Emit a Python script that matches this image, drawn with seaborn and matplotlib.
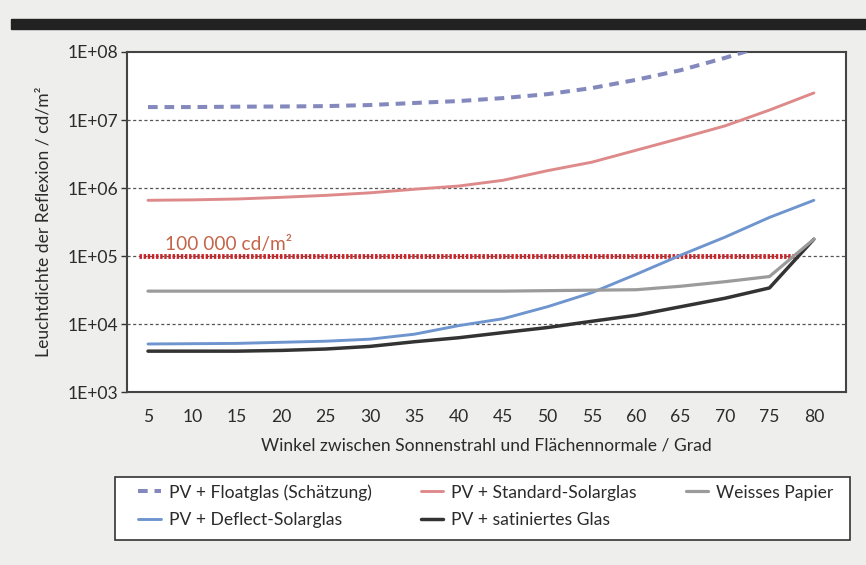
import numpy as np
import pandas as pd
import seaborn as sns
from matplotlib import pyplot as plt
from matplotlib.ticker import FuncFormatter, FixedLocator

# Daten
winkel = [5, 10, 15, 20, 25, 30, 35, 40, 45, 50, 55, 60, 65, 70, 75, 80]
floatglas = [1.55e7, 1.55e7, 1.57e7, 1.58e7, 1.6e7, 1.66e7, 1.78e7, 1.9e7, 2.1e7,
             2.4e7, 2.95e7, 3.9e7, 5.4e7, 8.2e7, 1.3e8, 2.0e8]
standard = [6.6e5, 6.7e5, 6.9e5, 7.3e5, 7.8e5, 8.5e5, 9.6e5, 1.07e6, 1.3e6,
            1.8e6, 2.4e6, 3.6e6, 5.4e6, 8.2e6, 1.4e7, 2.5e7]
deflect = [5.1e3, 5.15e3, 5.2e3, 5.4e3, 5.6e3, 6.0e3, 7.1e3, 9.5e3, 1.2e4,
           1.8e4, 2.9e4, 5.4e4, 1.03e5, 1.9e5, 3.7e5, 6.6e5]
papier = [3.05e4, 3.05e4, 3.05e4, 3.05e4, 3.05e4, 3.05e4, 3.05e4, 3.05e4, 3.05e4,
          3.1e4, 3.15e4, 3.2e4, 3.6e4, 4.2e4, 5.0e4, 1.77e5]
satiniert = [4.0e3, 4.0e3, 4.0e3, 4.1e3, 4.3e3, 4.7e3, 5.5e3, 6.3e3, 7.5e3,
             8.9e3, 1.1e4, 1.35e4, 1.8e4, 2.4e4, 3.4e4, 1.77e5]
grenzwert = 1e5

serien = ["PV + Floatglas (Schätzung)", "PV + Deflect-Solarglas",
          "PV + Standard-Solarglas", "PV + satiniertes Glas", "Weisses Papier"]
werte = [floatglas, deflect, standard, satiniert, papier]
farben = ["#8389bd", "#6f95cf", "#de8a8a", "#333333", "#9b9b9b"]
breiten = [2.9, 2.1, 2.1, 2.5, 2.3]

df = pd.DataFrame({"Winkel": winkel * len(serien),
                   "Wert": np.concatenate(werte),
                   "Serie": np.repeat(serien, len(winkel))})

sns.set_theme(style="white")
plt.rcParams['font.family'] = ['Lato', 'DejaVu Sans']
fs = 12.6
tc = "#2b2b2b"

fig = plt.figure(figsize=(8.66, 5.65), dpi=100, facecolor="#eeeeec")
fig.patches.append(plt.Rectangle((0.013, 0.949), 0.99, 0.018, transform=fig.transFigure,
                                 color="#222222", zorder=0))
ax = fig.add_axes([0.1467, 0.306, 0.83, 0.602])
ax.set_facecolor("white")

for s, c, lw in zip(serien, farben, breiten):
    d = df[df["Serie"] == s]
    sns.lineplot(data=d, x="Winkel", y="Wert", ax=ax, color=c, lw=lw, label=s,
                 linestyle=(0, (2.4, 1.7)) if "Float" in s else "-", zorder=3)

ax.set_yscale("log")
ax.set_ylim(1e3, 1e8)
ax.set_xlim(2.64, 83.6)

# Gitterlinien
for v in [1e4, 1e5, 1e6, 1e7]:
    ax.axhline(v, color="#555555", lw=0.9, ls=(0, (2.5, 2)), zorder=1)

# 100 000 cd/m2 Grenze
ax.axhline(grenzwert, xmin=0.017, xmax=0.935, color="#c8262a", lw=3.5,
           ls=(0, (0.5, 0.35)), zorder=2)
ax.text(6.9, 1.5e5, "100 000 cd/m²", color="#c4654a", fontsize=13.8, va="center", ha="left")

ax.xaxis.set_major_locator(FixedLocator(winkel))
ax.yaxis.set_major_locator(FixedLocator([1e3, 1e4, 1e5, 1e6, 1e7, 1e8]))
ax.yaxis.set_minor_locator(FixedLocator([]))
ax.yaxis.set_major_formatter(FuncFormatter(lambda v, p: "1E+%02d" % round(np.log10(v))))
ax.tick_params(axis="y", which="major", left=True, length=4, width=1, color="#333333",
               labelsize=fs, labelcolor=tc, pad=2)
ax.tick_params(axis="x", bottom=False, labelsize=fs, labelcolor=tc, pad=6)
for sp in ax.spines.values():
    sp.set_color("#444444")
    sp.set_linewidth(1.5)

ax.set_xlabel("Winkel zwischen Sonnenstrahl und Flächennormale / Grad", fontsize=fs,
              color=tc, labelpad=9)
ax.set_ylabel("Leuchtdichte der Reflexion / cd/m²", fontsize=fs, color=tc, labelpad=12)

# Legende mit eigenem Rahmen
ax.get_legend().remove()
fig.patches.append(plt.Rectangle((115 / 866, 1 - 540 / 565), 735 / 866, 63 / 565,
                                 transform=fig.transFigure, facecolor="white",
                                 edgecolor="#333333", lw=1.2, zorder=0))
h, l = ax.get_legend_handles_labels()
leg = fig.legend(h, l, ncol=3, loc="upper left", bbox_to_anchor=(138 / 866, 1 - 484 / 565),
                 frameon=False, fontsize=fs, handlelength=1.3, handletextpad=0.45,
                 columnspacing=2.8, labelspacing=0.68, borderpad=0, borderaxespad=0,
                 labelcolor=tc)

fig.savefig("out.png", dpi=100, facecolor=fig.get_facecolor())
